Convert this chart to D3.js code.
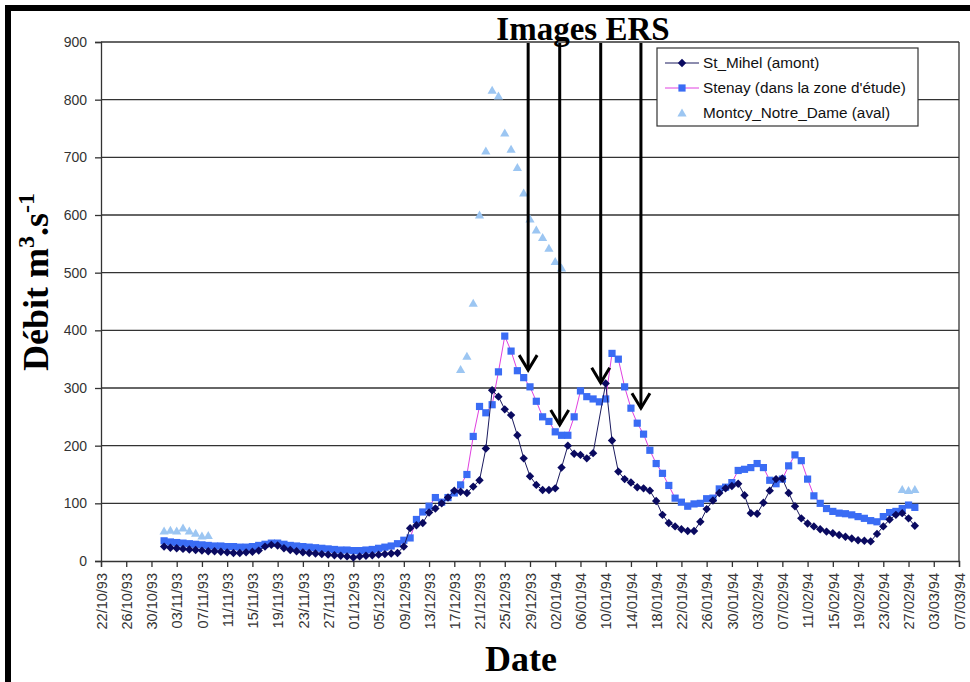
<!DOCTYPE html>
<html><head><meta charset="utf-8">
<script src="https://cdn.jsdelivr.net/npm/d3@7"></script>
<style>body{margin:0;background:#fff}svg{display:block}</style>
</head><body>
<svg id="c" width="970" height="682"></svg>
<script>
const _ = null;
// daily series, first value = 01/11/93, last = 28/02/94
const firstDay = "1993-11-01";
const stMihel = [
 25,23,22,21,20,19,18,17,17,16,
 15,14,14,15,16,18,25,28,27,22,
 19,17,15,14,13,12,11,10,9,8,
 6,8,9,10,11,12,13,14,25,57,
 62,66,84,91,100,110,122,120,118,129,
 140,195,296,285,263,253,218,178,147,132,
 123,123,126,162,200,186,184,178,187,_,
 308,209,155,142,136,128,126,122,104,80,
 66,60,55,52,52,68,90,105,118,126,
 130,134,114,83,82,101,122,142,143,118,
 95,74,65,60,55,51,48,45,42,39,
 36,35,34,47,60,72,80,83,74,61];
const stenay = [
 35,33,32,31,30,29,28,27,26,26,
 25,25,24,24,25,27,29,31,31,29,
 27,26,25,24,23,22,21,20,19,19,
 18,18,19,20,22,24,26,30,36,40,
 72,85,95,110,102,110,118,132,150,216,
 268,257,271,328,390,364,330,318,302,277,
 250,242,224,218,218,250,295,285,281,276,
 281,360,350,302,265,239,220,192,169,152,
 131,109,102,95,99,100,108,109,125,128,
 136,157,159,162,169,162,140,134,142,165,
 184,174,142,113,100,91,86,83,82,80,
 77,74,70,68,77,84,86,91,97,93];
const montcy = [
 52,53,52,57,52,48,43,44,_,_,
 _,_,_,_,_,_,_,_,_,_,
 _,_,_,_,_,_,_,_,_,_,
 _,_,_,_,_,_,_,_,_,_,
 _,_,_,_,_,_,_,332,355,447,
 600,711,816,806,742,714,682,638,593,574,
 561,542,519,508,_,_,_,_,_,_,
 _,_,_,_,_,_,_,_,_,_,
 _,_,_,_,_,_,_,_,_,_,
 _,_,_,_,_,_,_,_,_,_,
 _,_,_,_,_,_,_,_,_,_,
 _,_,_,_,_,_,_,124,122,124];
const seriesNames = ["St_Mihel (amont)", "Stenay (dans la zone d'étude)", "Montcy_Notre_Dame (aval)"];
const yTicks = [0,100,200,300,400,500,600,700,800,900];
const axisStart = "1993-10-22", axisEnd = "1994-03-07", tickStepDays = 4;
const arrowDates = ["1993-12-28T17:00Z","1994-01-02T17:00Z","1994-01-09T05:00Z","1994-01-15T14:00Z"];
const arrowTipValues = [331, 236, 309, 265];
const annotationTitle = "Images ERS";

const svg = d3.select("#c");
const parse = d3.utcParse("%Y-%m-%d");
const x = d3.scaleUtc().domain([parse(axisStart), parse(axisEnd)]).range([101, 959]);
const y = d3.scaleLinear().domain([0, 900]).range([561, 42]);
const d0 = parse(firstDay);
const dates = stMihel.map((_, i) => d3.utcDay.offset(d0, i));

// outer frame (top & left visible)
svg.append("rect").attr("x", 8).attr("y", 8).attr("width", 1000).attr("height", 720)
  .attr("fill", "none").attr("stroke", "#000").attr("stroke-width", 6);

// gridlines
svg.append("g").selectAll("line").data(yTicks.filter(v => v > 0)).join("line")
  .attr("x1", 101).attr("x2", 959).attr("y1", d => y(d)).attr("y2", d => y(d))
  .attr("stroke", "#333").attr("stroke-width", 1.3);
// right border
svg.append("line").attr("x1", 959).attr("x2", 959).attr("y1", 42).attr("y2", 561)
  .attr("stroke", "#333").attr("stroke-width", 1.3);

// y axis
const yAxis = svg.append("g").attr("transform", "translate(101,0)")
  .call(d3.axisLeft(y).tickValues(yTicks).tickSize(6).tickPadding(8).tickFormat(d3.format("d")));
yAxis.select(".domain").attr("stroke", "#333").attr("stroke-width", 1.3);
yAxis.selectAll(".tick line").attr("stroke", "#333").attr("stroke-width", 1.3);
yAxis.selectAll("text").attr("font-family", "Liberation Sans, Arial, sans-serif")
  .attr("font-size", 14).attr("fill", "#333");

// x axis
const xTicks = d3.utcDay.range(parse(axisStart), d3.utcDay.offset(parse(axisEnd), 1), tickStepDays);
const xAxis = svg.append("g").attr("transform", "translate(0,561)")
  .call(d3.axisBottom(x).tickValues(xTicks).tickSize(6).tickFormat(d3.utcFormat("%d/%m/%y")));
xAxis.select(".domain").attr("stroke", "#333").attr("stroke-width", 1.3);
xAxis.selectAll(".tick line").attr("stroke", "#333").attr("stroke-width", 1.3);
xAxis.selectAll("text").attr("font-family", "Liberation Sans, Arial, sans-serif")
  .attr("font-size", 14.5).attr("fill", "#333")
  .attr("transform", "rotate(-90)").attr("text-anchor", "end")
  .attr("x", -12).attr("y", 0).attr("dy", "0.36em");

// symbols
const diamond = "M0,-4.2L4.2,0L0,4.2L-4.2,0Z";
const square = "M-3.6,-3.6H3.6V3.6H-3.6Z";
const triangle = "M0,-4.6L4.6,3.4H-4.6Z";

// Montcy markers only
svg.append("g").selectAll("path").data(dates.map((d, i) => [d, montcy[i]]).filter(p => p[1] != null))
  .join("path").attr("d", triangle).attr("fill", "#9cc6f2")
  .attr("transform", p => `translate(${x(p[0])},${y(p[1])})`);

// Stenay
const line = d3.line().x(p => x(p[0])).y(p => y(p[1]));
const stenayPts = dates.map((d, i) => [d, stenay[i]]).filter(p => p[1] != null);
svg.append("path").attr("d", line(stenayPts)).attr("fill", "none").attr("stroke", "#e040e0").attr("stroke-width", 1);
svg.append("g").selectAll("path").data(stenayPts).join("path").attr("d", square).attr("fill", "#3a6cf4")
  .attr("transform", p => `translate(${x(p[0])},${y(p[1])})`);

// St_Mihel
const mihelPts = dates.map((d, i) => [d, stMihel[i]]).filter(p => p[1] != null);
svg.append("path").attr("d", line(mihelPts)).attr("fill", "none").attr("stroke", "#1a1a5e").attr("stroke-width", 1);
svg.append("g").selectAll("path").data(mihelPts).join("path").attr("d", diamond).attr("fill", "#0a0a60")
  .attr("transform", p => `translate(${x(p[0])},${y(p[1])})`);

// arrows
const ag = svg.append("g").attr("stroke", "#000").attr("stroke-width", 3).attr("fill", "none");
arrowDates.forEach((ds, i) => {
  const ax = x(d3.isoParse(ds)), ty = y(arrowTipValues[i]);
  ag.append("line").attr("x1", ax).attr("x2", ax).attr("y1", 43).attr("y2", ty);
  ag.append("path").attr("d", `M${ax - 9},${ty - 15}L${ax},${ty}L${ax + 9},${ty - 15}`);
});
svg.append("text").attr("x", 583).attr("y", 40).attr("text-anchor", "middle")
  .attr("font-family", "Liberation Serif, Times New Roman, serif").attr("font-weight", "bold")
  .attr("font-size", 33).text(annotationTitle);

// legend
const lg = svg.append("g").attr("transform", "translate(657,48)");
lg.append("rect").attr("width", 261).attr("height", 78).attr("fill", "#fff").attr("stroke", "#333").attr("stroke-width", 1.2);
const rows = [15, 40, 65];
lg.append("line").attr("x1", 8).attr("x2", 42).attr("y1", rows[0]).attr("y2", rows[0]).attr("stroke", "#1a1a5e");
lg.append("path").attr("d", diamond).attr("fill", "#0a0a60").attr("transform", `translate(25,${rows[0]})`);
lg.append("line").attr("x1", 8).attr("x2", 42).attr("y1", rows[1]).attr("y2", rows[1]).attr("stroke", "#e040e0");
lg.append("path").attr("d", square).attr("fill", "#3a6cf4").attr("transform", `translate(25,${rows[1]})`);
lg.append("path").attr("d", triangle).attr("fill", "#9cc6f2").attr("transform", `translate(25,${rows[2]})`);
lg.selectAll("text").data(seriesNames).join("text")
  .attr("x", 46).attr("y", (d, i) => rows[i]).attr("dy", "0.35em")
  .attr("font-family", "Liberation Sans, Arial, sans-serif").attr("font-size", 15.3).attr("fill", "#111")
  .text(d => d);

// axis titles
const yt = svg.append("text").attr("transform", "translate(48,282) rotate(-90)").attr("text-anchor", "middle")
  .attr("font-family", "Liberation Serif, Times New Roman, serif").attr("font-weight", "bold").attr("font-size", 36);
yt.append("tspan").text("Débit m");
yt.append("tspan").attr("dy", -14).attr("font-size", 24).text("3");
yt.append("tspan").attr("dy", 14).text(".s");
yt.append("tspan").attr("dy", -14).attr("font-size", 24).text("-1");
svg.append("text").attr("x", 521).attr("y", 671).attr("text-anchor", "middle")
  .attr("font-family", "Liberation Serif, Times New Roman, serif").attr("font-weight", "bold")
  .attr("font-size", 36).text("Date");
</script>
</body></html>
